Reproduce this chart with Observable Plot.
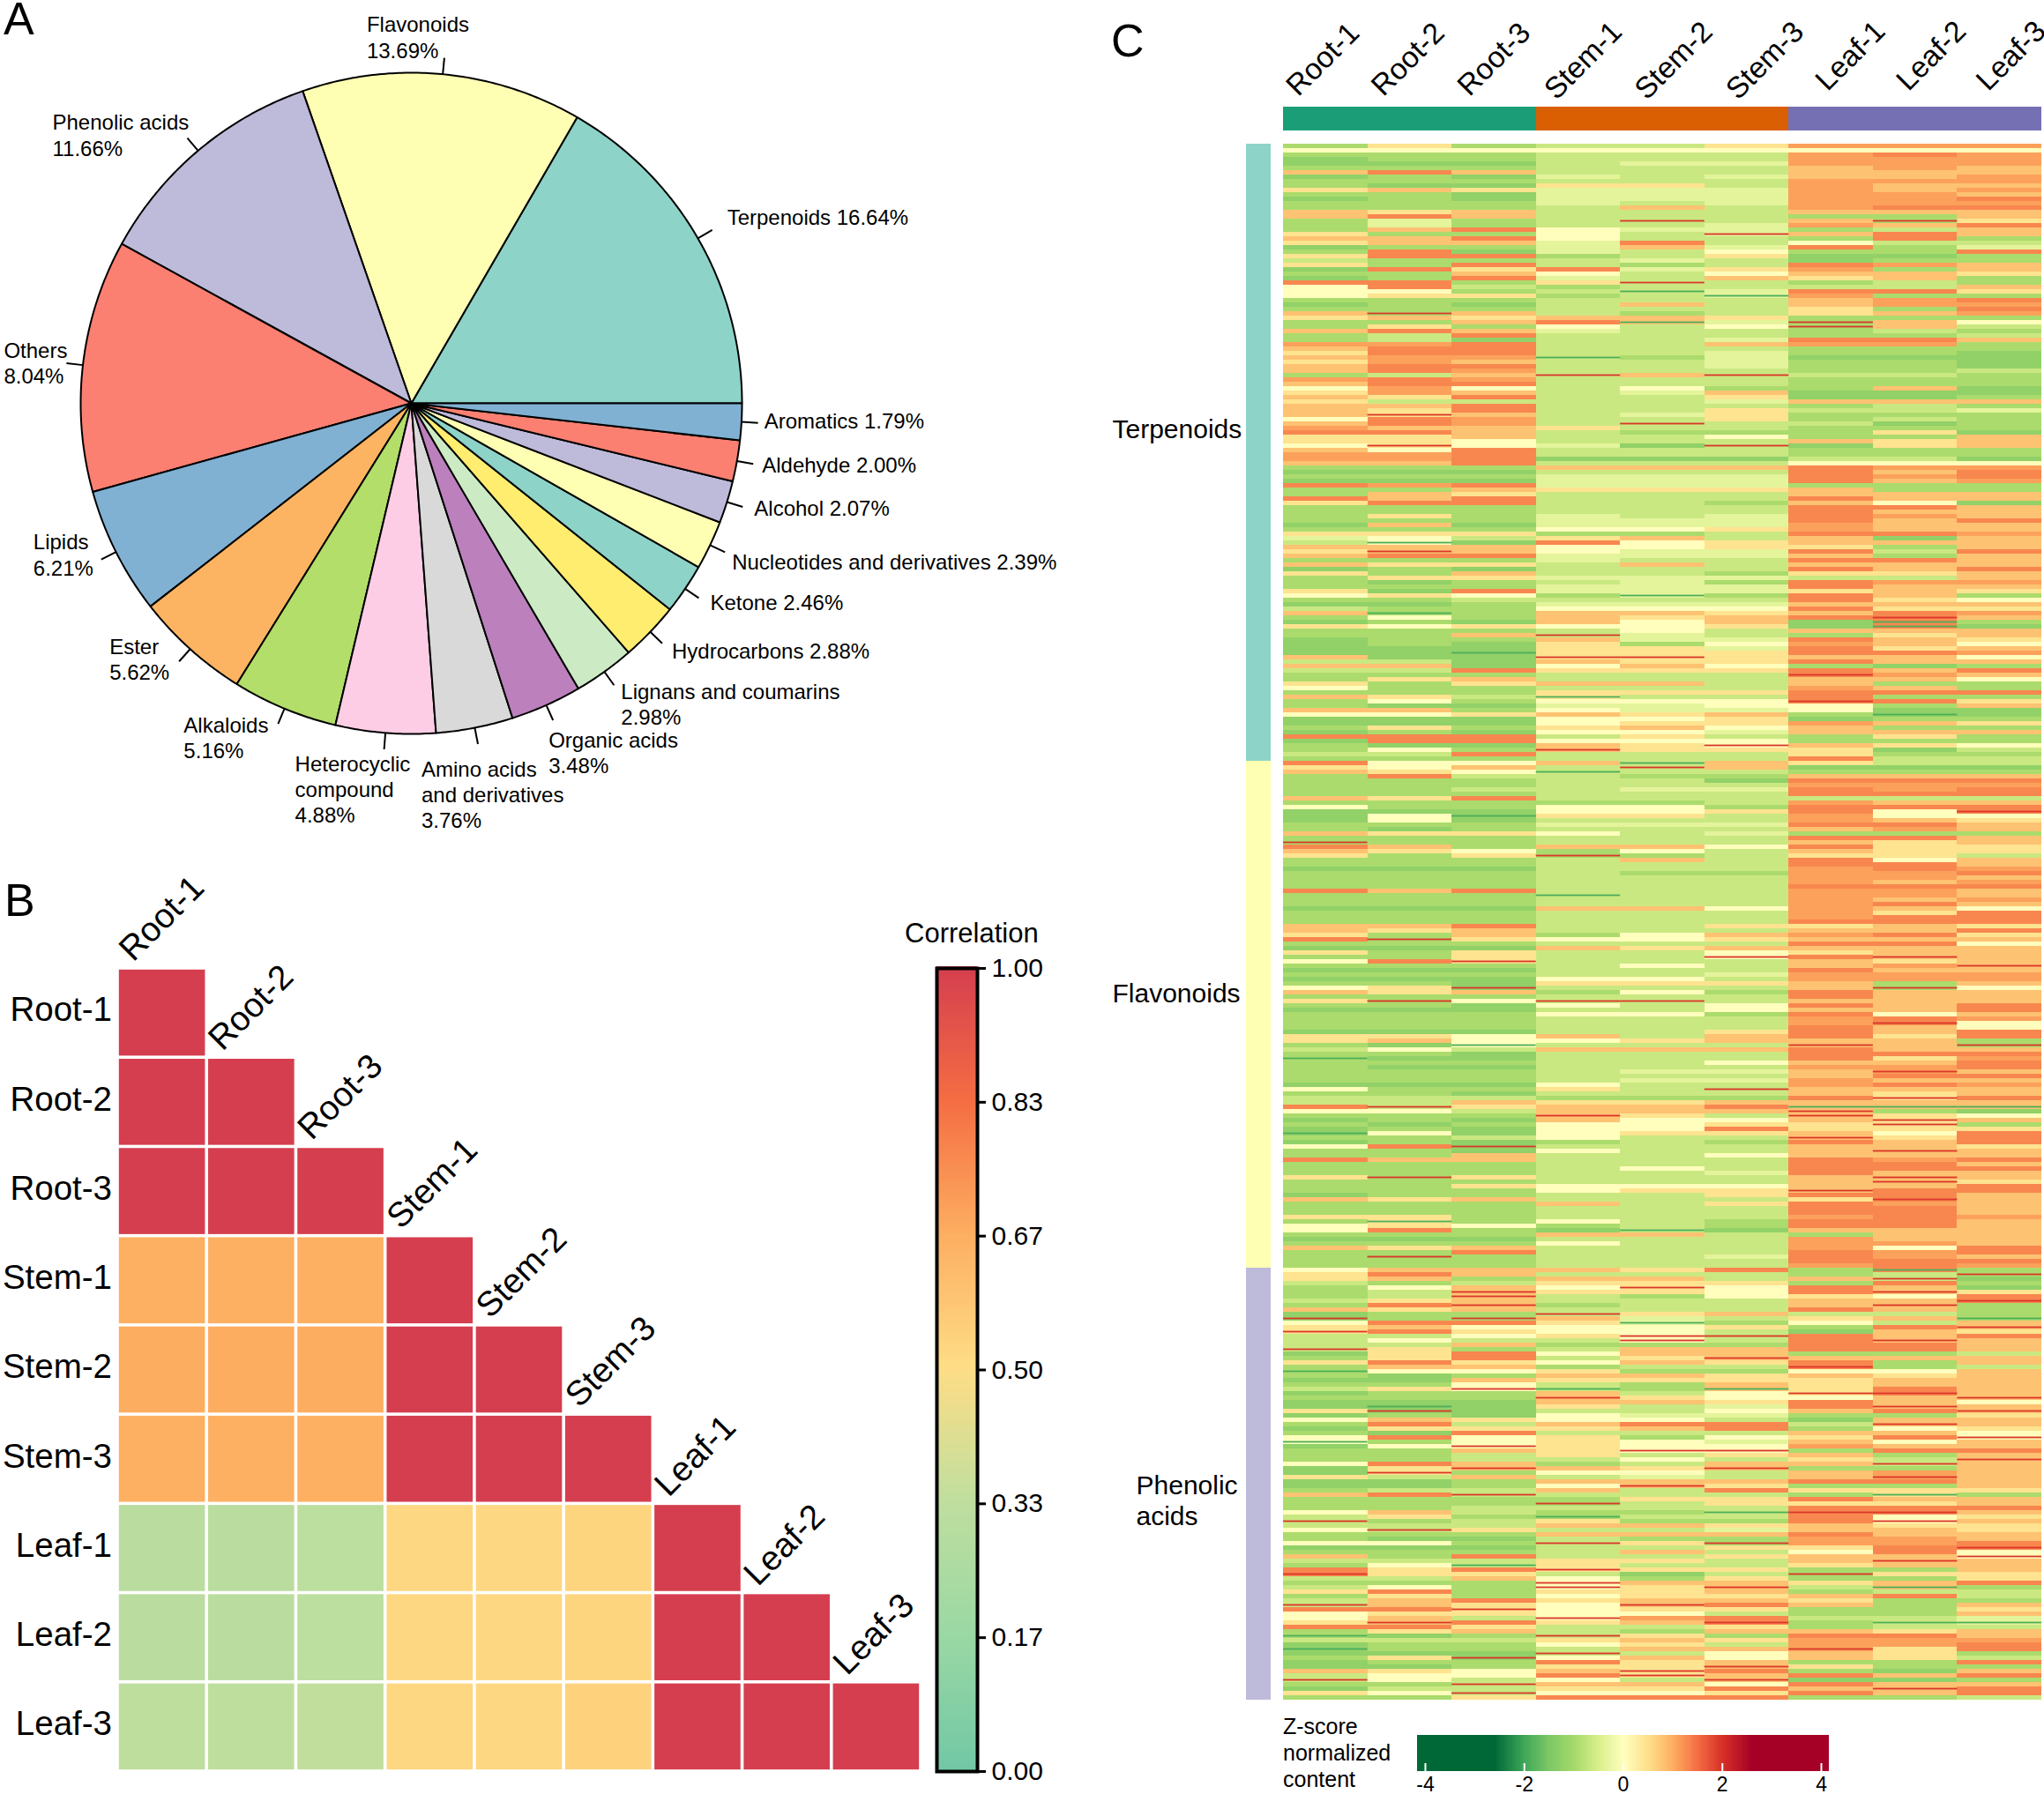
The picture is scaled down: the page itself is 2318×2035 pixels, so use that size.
<!DOCTYPE html>
<html><head><meta charset="utf-8">
<script src="https://cdn.jsdelivr.net/npm/d3@7"></script>
<script src="https://cdn.jsdelivr.net/npm/@observablehq/plot@0.6"></script>
<style>
html,body{margin:0;padding:0;background:#fff;color:#000;font-family:"Liberation Sans",Arial,sans-serif}
#page{position:relative;width:2318px;height:2035px;overflow:hidden}
.abs{position:absolute}
.abs svg{display:block;overflow:visible}
</style></head><body><div id="page"></div>
<script>
// Panel A
const pieNames=["Terpenoids","Flavonoids","Phenolic acids","Others","Lipids","Ester","Alkaloids","Heterocyclic compound","Amino acids and derivatives","Organic acids","Lignans and coumarins","Hydrocarbons","Ketone","Nucleotides and derivatives","Alcohol","Aldehyde","Aromatics"];
const pieShares=[16.64,13.69,11.66,12.33,6.21,5.62,5.16,4.88,3.76,3.48,2.98,2.88,2.46,2.39,2.07,2.00,1.79];
const pieLabels=["Terpenoids 16.64%","Flavonoids\n13.69%","Phenolic acids\n11.66%","Others\n8.04%","Lipids\n6.21%","Ester\n5.62%","Alkaloids\n5.16%","Heterocyclic\ncompound\n4.88%","Amino acids\nand derivatives\n3.76%","Organic acids\n3.48%","Lignans and coumarins\n2.98%","Hydrocarbons 2.88%","Ketone 2.46%","Nucleotides and derivatives 2.39%","Alcohol 2.07%","Aldehyde 2.00%","Aromatics 1.79%"];
const pieColors=["#8DD3C7","#FFFFB3","#BEBADA","#FB8072","#80B1D3","#FDB462","#B3DE69","#FCCDE5","#D9D9D9","#BC80BD","#CCEBC5","#FFED6F","#8DD3C7","#FFFFB3","#BEBADA","#FB8072","#80B1D3"];
const pieLabelDx=[17,-88,-153,-71,-77,-79,-107,-101,-64,-5,8,11,13,8,13,10,7];
const pieLabelDy=[-19,-42,-22,-19,-24,-21,-3,12,24,18,3,4,1,7,-3,-3,-6];
// Panel B
const samples=["Root-1","Root-2","Root-3","Stem-1","Stem-2","Stem-3","Leaf-1","Leaf-2","Leaf-3"];
const corrRows=[[1],[1,1],[1,1,1],[.66,.66,.66,1],[.67,.67,.67,1,1],[.66,.66,.66,1,1,1],[.31,.31,.32,.52,.52,.53,1],[.31,.31,.32,.52,.52,.53,1,1],[.33,.33,.34,.52,.52,.54,1,1,1]];
const corrTicks=[0,1/6,2/6,3/6,4/6,5/6,1];
const corrColors=["#72C7A5","#9AD8A4","#BFDE9E","#FEDD86","#FDAE61","#F46D43","#D53E4F"];
// Panel C
const sampleGroup=["Root","Root","Root","Stem","Stem","Stem","Leaf","Leaf","Leaf"];
const groupNames=["Root","Stem","Leaf"];
const groupColors=["#1B9E77","#D95F02","#7570B3"];
const classNames=["Terpenoids","Flavonoids","Phenolic acids"];
const classRowCounts=[140,115,98];
const classColors=["#8DD3C7","#FFFFB3","#BEBADA"];
const classLabels=["Terpenoids","Flavonoids","Phenolic\nacids"];
const classLabelRows=[64,192,307];
const classLabelDx=[-152,-152,-125];
const topLabelDx=[-31,-30,-28,-25,-18,-10,-4,-8,-13];
const topLabelEnd=[110,110,110,114,114,114,104,104,104];
const zLetters={a:-1.9,b:-1.25,c:-.95,d:-.65,e:-.35,f:.02,g:.45,h:.8,i:1.1,j:1.3,k:1.95};
const zTicks=[-4,-2,0,2,4];
const zStops=[-4,-2.6,-2,-1.5,-1,-.5,0,.5,1,1.5,2,2.6,4];
const zColors=["#006837","#006837","#3FA758","#7CC865","#A6D96A","#D9EF8B","#FFFFBF","#FEE08B","#FDAE61","#F46D43","#D73027","#A50026","#A50026"];
const heatRowsText=`
cgc ddg iii/fff fff fff/ccc ddd iji/bcc ddd iii/bbb dee iii/ccc ddd hih/hjh ddd hhh/bcb ede hhi/ccc ddd iii/cbb ggd ihh/ghg eee ihi/ccb eee iih/bcb eee iij/ccc ede iii/ccc dhd ijj/hgh ddd hhh/hjh ddd cch/cec dkd hkg/cec dde ihj/chj fee cdh/
gcc fdk hjh/hhj fdd cjc/ghh ejd fdd/bcc ehe jce/cjb edf ccj/gjj cdg bbc/dcc ded bcc/gcj dcd jih/bjg jeg ich/cch fdf hhg/bcj edh ghc/jjc gkd cdc/fjd cdd ddh/ffc dae jjg/fgg cda icc/ccc ddd hij/bcb dhd hii/ccc ddd gcj/hkh dcd ghi/ghg hhg ccc/
cch jae khf/cgc fdf khd/hjh edd cdc/cdj ddd ccd/cdb dde jjh/iij ddh iic/hjj ddd ccc/gjj dde ccb/hii ace bbb/gih dde ccb/hjj dde ccb/hji ddd ccd/cdh khk ddc/iji ddd ccc/hjj ddd ccc/fif dfc chb/gih deh bbb/hgj ddg bbc/gdd dde hhh/hhj ddd cdc/
hgj ddg dde/hkh deg ccc/fji ddg cdc/hji dkd dbc/ihh gdd ccc/jjh dcc cgb/ggh ddf cch/ggf ddd hgh/fkf ebk bgh/hfj ddd ccc/iij ddd ccc/iij bbb ddb/hhj ddd fff/ccc hhh jii/bbb ddd jhj/ccc eee jij/bbb eee jhi/jij eee ccc/cch ggg hcc/chg ddd hhh/
jhj ddd jhh/gjj ddc hfb/ccc ddd jjh/ccc ddd jhh/cgc ede jih/ccc eee jhj/bhb eee ihh/ccc ffg ihh/ggg ccd jji/efd ghd hbh/dab jfg hhh/hhh ffg gch/gkh fee jdj/hjj eee hch/ccc edd jjh/hgg dhd hhh/bcb ddd jhj/gch ddc ggh/cgg eee ddh/cbc dec jii/
ccc eee jhh/gbj eee ghg/fgf cac jhc/ccd ddd jgf/bbc eee hhh/dcc fff jgg/hac hhg hji/cfc hgh jkh/bcb hfh bac/gfg ffg bab/ccc dfd hhh/cch ked cgh/bcc hee jhg/bcb gcf ihf/bbb gge jgh/bba ggg jji/hbb kkg hhf/ddb hgg jhh/hhb fhf cbc/ddj ggg jhj/
ccc ddd kih/cgh ddd hhf/gcg hhd hcc/fcc ddd ihc/ccc ggg jjj/hgd add jcc/cfc fff kjg/cbb eef fch/hhc fee fbb/ffg hgh cab/bbb ffg bcc/bbb fgg ihg/cgc ghf hcc/bcb ffe hhh/jjj dgd cgc/bjj fff ccc/cbb hgk hgf/cfc kgg gbd/ddj ddd gcc/ccc ddd jdd/
jff hah gdd/gfh dkh bbb/hgf add ccc/cjd dcc hhh/ccc ddb jjj/ccc ddd iii/ccd dee jij/ccc ddd jjj/hgj ddd ddd/ccc ccd ihh/fcc ffc jjj/bbb ffg jfk/bfa ggd iff/bfb ddd ihg/ccc eee jjh/cbc ddd hih/hgg fde ccc/ccc ddd jjh/kcc ddd hgh/jhc hhf jgg/
hgf cfd hgg/gcg kcd ggd/ccc dhd jfh/ccc ddd jjh/bbb ddd iji/ccc dcc iij/ccc ddd iih/ccc ddd ihi/ccc ddd jjj/jhj ddd iih/ccc add iih/ccc ddd ihi/ccc ddd ijh/bbb hhf ihf/ccc ddd igj/ccc ddd ijj/ccc ddd jjj/hhj ddg ghg/hgh ddd hhj/gch cfh ijg/
jkg ffg hhh/ccc ddd jjf/bbb hgh hhh/gcg ddf ghh/ccg ddk jkh/fjk ddd hgh/ccc dfd hik/bbb ddd jhh/ccc dde iii/bbb ffd iii/ccb ggg hch/fgk ddd hkf/hgh cfc jhh/ccc ddd jhh/gkf kkd hhh/ccb fdf jhj/bbb ddf hhj/ccc ffc jfh/ccc ddd iji/ccc ddd ikf/
ccc ddd jhf/bbb ddg jhj/ggf hdh jgj/ghf fgh hhc/cba ddd khk/dfd hhh jhh/ccb ddd jjj/abb ddd jgi/ccc ddf hhj/cbb ddd iij/ccc dee hkh/ccc ddd hjj/ccc dee ihh/bbb fdd iji/fcc gdk hhh/ccb ddd hgh/ddd ccc jkj/ddh ggh hhh/jkg hhj aaa/ffd hhh kcb/
ccc kgd kgf/bcb hff hkh/cbc ffg gkc/bcb ffj ggg/afb fgg hfj/ccd fdd kgj/bcb cdc jhj/fjk ddd hhg/ccb fdd hkh/cch ddf hhh/jhh ddd jij/ccc ddd jjh/ccc dfd jjj/ccc dde jhh/gkg ddd hkh/ccc ddd hkg/ccg fff hhj/ccc fgg kjj/bcc ddg jjh/hgh ddd gkh/
ccc hdg jih/ccc ddd jjh/ccc ddd jjh/ggc ddd iji/cac fdc jjh/fgf cdc jjh/fjc bab hhh/ccc hhd chh/bbb ddd ihh/ccc fdd iih/hgh ddd ifj/ccj ddd jij/ckc dde jih/ccc ddd jjj/ccc ddd iji/fhh hgj cac/gjh ddd cdk/ghc hhd hkb/dcd ggg cjc/cfh fkf jhb/
cdk ggf jkg/cdk dcf gfj/dgh ddd hhk/cjk cdd hkc/hgh ddd jhc/bcc kgh ddc/kck hed gha/fjj gac fdh/ghf ffg cjk/kjg ffd bhg/ddf gkk jhj/dfd dkd jkh/ddh ccc jjh/kgc dhh jjh/bgj fhh ccd/cgj dgk hhh/gjg fhg jch/chh cdd kcd/aff gcc ffh/cbc hhg hgh/
bbh ggg ghh/ccf dch ghh/dgk aca gjh/bcc hdf kkh/ccc kgf fhk/bbb hhg jhf/bab gde jkh/gkb ddf hjk/bcb fee ccg/fhg ffd bhh/cjd hjj dkh/bgg ghj cfg/cbj ddd hhf/fjf gcf gjk/acf gfe hfh/bfk gff ihh/cch gkk cjj/ccd gdg hch/ccd dfd gdk/fjh cdh hkh/
bgk hgk cch/bkc ffd hih/gdh ded hkh/bbc hhh jjh/bbc fkg cch/cdd hdj ggg/hjk ddd cac/ccc cgg jhh/ccc kdg ggh/ccd ddd jjj/fhd cca kkh/dgc add jfg/kcd gcc jkh/ddd hhg hgg/fkg dde hhg/ccc hhh jhh/cbb dcc iih/ffc kgk iij/bbb ddg gjk/ccc dhd fjf/
hcj ddg hhk/ddd ggd hkh/cfa gdd ghh/jgj kgg cch/kgg dbd kgg/ddh fcg ccg/ccc khh ghj/dfc kgk dac/gjc ggh cdd/cgc fgg hjd/dhj ghh gcc/khg fkj hch/jjk fgg ccg/fgg ffd cch/fhd kij dde/gkj ghk caa/jjg ddg cdd/cgh dch hgh/abc kgc jjh/ddd ghg iii/
bcc fgd iij/acc dhh kgj/bbb kdf hgc/cgk fhf hgd/bcc jgh ccj/bbc ggk gcc/hgf hkj cbh/dff jkh jhj/kfd fdk bbc/cck hhf jhh/bdd ggj hkj/gfk ffg jhj/ccg jjj ccd`;

const FONT='"Liberation Sans",Arial,sans-serif';
const page=document.getElementById("page");
function place(node,left,top){const d=document.createElement("div");d.className="abs";d.style.left=left+"px";d.style.top=top+"px";d.append(node);page.append(d);return d;}
function html(text,left,top,css){const d=document.createElement("div");d.className="abs";d.style.cssText=`left:${left}px;top:${top}px;white-space:pre;${css||""}`;d.textContent=text;page.append(d);}
const base={style:{background:"transparent",fontFamily:FONT,color:"#000",overflow:"visible"}};

// ---------- A: pie ----------
let cum=0;
const TAU=Math.PI*2;
const pie=pieNames.map((name,i)=>{
  const a0=cum/100*TAU; cum+=pieShares[i]; const a1=cum/100*TAU; const mid=(a0+a1)/2;
  return {name,color:pieColors[i],a0,a1,mid,label:pieLabels[i],dx:pieLabelDx[i],dy:pieLabelDy[i]};
});
const arcPts=pie.flatMap(s=>{
  const n=Math.max(2,Math.ceil((s.a1-s.a0)/0.01));
  const pts=[{name:s.name,color:s.color,x:0,y:0}];
  for(let k=0;k<=n;k++){const a=s.a0+(s.a1-s.a0)*k/n;pts.push({name:s.name,color:s.color,x:Math.cos(a),y:Math.sin(a)});}
  pts.push({name:s.name,color:s.color,x:0,y:0});
  return pts;
});
place(Plot.plot({...base,width:1250,height:980,margin:0,
  x:{domain:[-1,1],range:[91,841],axis:null},
  y:{domain:[-1,1],range:[832,82],axis:null},
  color:{type:"identity"},
  marks:[
    Plot.line(arcPts,{x:"x",y:"y",z:"name",fill:"color",stroke:"#000",strokeWidth:2,strokeLinejoin:"round"}),
    Plot.link(pie,{x1:d=>Math.cos(d.mid),y1:d=>Math.sin(d.mid),x2:d=>1.05*Math.cos(d.mid),y2:d=>1.05*Math.sin(d.mid),stroke:"#000",strokeWidth:2}),
    ...pie.map(d=>Plot.text([d],{x:e=>1.05*Math.cos(e.mid),y:e=>1.05*Math.sin(e.mid),dx:d.dx,dy:d.dy-8,text:"label",textAnchor:"start",lineAnchor:"top",lineHeight:1.22,fontSize:24,fill:"#000"}))
  ]}),0,0);
html("A",4,0,"font-size:52px;line-height:42px");

// ---------- B: correlation ----------
const corr=corrRows.flatMap((r,i)=>r.map((v,j)=>({row:samples[i],col:samples[j],v})));
const corrScale={type:"linear",domain:corrTicks,range:corrColors};
place(Plot.plot({...base,width:1050,height:1055,marginTop:118,marginBottom:26,marginLeft:133,marginRight:6,
  x:{domain:samples,padding:0,round:false,axis:null},
  y:{domain:samples,padding:0,round:false,axis:null},
  color:corrScale,
  marks:[
    Plot.cell(corr,{x:"col",y:"row",fill:"v",inset:1.8}),
    Plot.axisY({tickSize:0,tickPadding:6.5,fontSize:38.5,label:null,dy:-3}),
    Plot.text(samples,{x:d=>d,y:d=>d,text:d=>d,rotate:-45,textAnchor:"start",dx:-42,dy:-66,fontSize:39,fill:"#000"})
  ]}),0,980);
place(Plot.plot({...base,width:220,height:1055,marginTop:118,marginBottom:26,marginLeft:12,marginRight:162,
  x:{domain:[0,1],axis:null},
  y:{domain:[0,1],axis:null},
  color:corrScale,
  marks:[
    Plot.rect(d3.range(0,1,0.004),{x1:0,x2:1,y1:d=>d,y2:d=>d+0.006,fill:d=>d,shapeRendering:"crispEdges"}),
    Plot.frame({stroke:"#000",strokeWidth:4}),
    Plot.axisY({anchor:"right",ticks:corrTicks,tickFormat:d3.format(".2f"),tickSize:9,tickPadding:7,strokeWidth:3,stroke:"#000",fontSize:30,label:null})
  ]}),1050,980);
html("Correlation",1026,1041,"font-size:31px;line-height:36px");
html("B",5,995,"font-size:52px;line-height:52px");

// ---------- C: heatmap ----------
const heatRows=heatRowsText.trim().split("/").map(s=>s.replace(/\s/g,""));
const isLine=c=>c==="k"||c==="a";
const rowIds=heatRows.map((_,i)=>i);
const heat=heatRows.flatMap((r,i)=>[...r].map((c,j)=>{
  let back=c, k=i;
  while(isLine(back)&&k>0){k--;back=heatRows[k][j];}
  if(isLine(back)) back="c";
  return {row:i,col:samples[j],z:zLetters[back],letter:c};
}));
const heatLines=heat.filter(d=>isLine(d.letter)).map(d=>({...d,z:zLetters[d.letter]}));
const zScale={type:"linear",domain:zStops,range:zColors};
const rowClass=classNames.flatMap((c,i)=>Array(classRowCounts[i]).fill(c));
const heatBox=place(Plot.plot({...base,width:860,height:heatRows.length*5,margin:0,
  x:{domain:samples,padding:0,round:false,axis:null},
  y:{domain:rowIds,padding:0,round:false,axis:null},
  color:zScale,
  marks:[
    Plot.cell(heat,{x:"col",y:"row",fill:"z",shapeRendering:"crispEdges"}),
    Plot.cell(heatLines,{x:"col",y:"row",fill:"z",insetTop:1.6,insetBottom:1.6})
  ]}),1455,163);
heatBox.style.filter="blur(0.6px)";

place(Plot.plot({...base,width:860,height:150,marginTop:121,marginBottom:2,marginLeft:0,marginRight:0,
  x:{domain:samples,padding:0,round:false,axis:null},
  y:{axis:null},
  color:{type:"ordinal",domain:groupNames,range:groupColors},
  marks:[Plot.cell(samples,{x:d=>d,fill:(d,i)=>sampleGroup[i],shapeRendering:"crispEdges"})]}),1455,0);
// rotated sample labels above the annotation bar
const topLabels=samples.map((s,i)=>({s,i,pos:i+.5+topLabelDx[i]/(860/9),end:topLabelEnd[i]}));
place(Plot.plot({...base,width:860,height:120,margin:0,
  x:{domain:[0,9],range:[0,860],axis:null},
  y:{domain:[0,120],range:[0,120],axis:null},
  marks:[Plot.text(topLabels,{x:"pos",y:"end",text:"s",rotate:-45,textAnchor:"start",lineAnchor:"bottom",fontSize:33.5,fill:"#000"})]
}),1455,0);

place(Plot.plot({...base,width:191,height:rowIds.length*5,marginTop:0,marginBottom:0,marginLeft:163,marginRight:0,
  x:{domain:[0,1],axis:null},
  y:{domain:rowIds,padding:0,round:false,axis:null},
  color:{type:"ordinal",domain:classNames,range:classColors},
  marks:[
    Plot.cell(rowIds,{y:d=>d,fill:d=>rowClass[d],shapeRendering:"crispEdges"}),
    ...classNames.map((c,i)=>Plot.text([classLabelRows[i]],{y:d=>d,frameAnchor:"left",dx:classLabelDx[i],text:()=>classLabels[i],textAnchor:"start",lineHeight:1.18,fontSize:30,fill:"#000"}))
  ]}),1250,163);

// z legend
const zSteps=d3.range(-4.16,4.16,0.02);
place(Plot.plot({...base,width:500,height:75,marginTop:8,marginBottom:26,marginLeft:17,marginRight:16,
  x:{domain:[-4.16,4.16],axis:null},
  y:{domain:[0,1],axis:null},
  color:zScale,
  marks:[
    Plot.rect(zSteps,{x1:d=>d,x2:d=>Math.min(d+0.03,4.16),y1:0,y2:1,fill:d=>d,shapeRendering:"crispEdges"}),
    Plot.ruleX(zTicks,{y1:0,y2:.22,stroke:"#fff",strokeWidth:2}),
    Plot.axisX({ticks:zTicks,tickFormat:d=>String(d),tickSize:0,tickPadding:6,fontSize:23,label:null})
  ]}),1590,1960);
html("Z-score\nnormalized\ncontent",1455,1943,"font-size:25px;line-height:30px");
html("C",1260,20,"font-size:52px;line-height:52px");
</script></body></html>
